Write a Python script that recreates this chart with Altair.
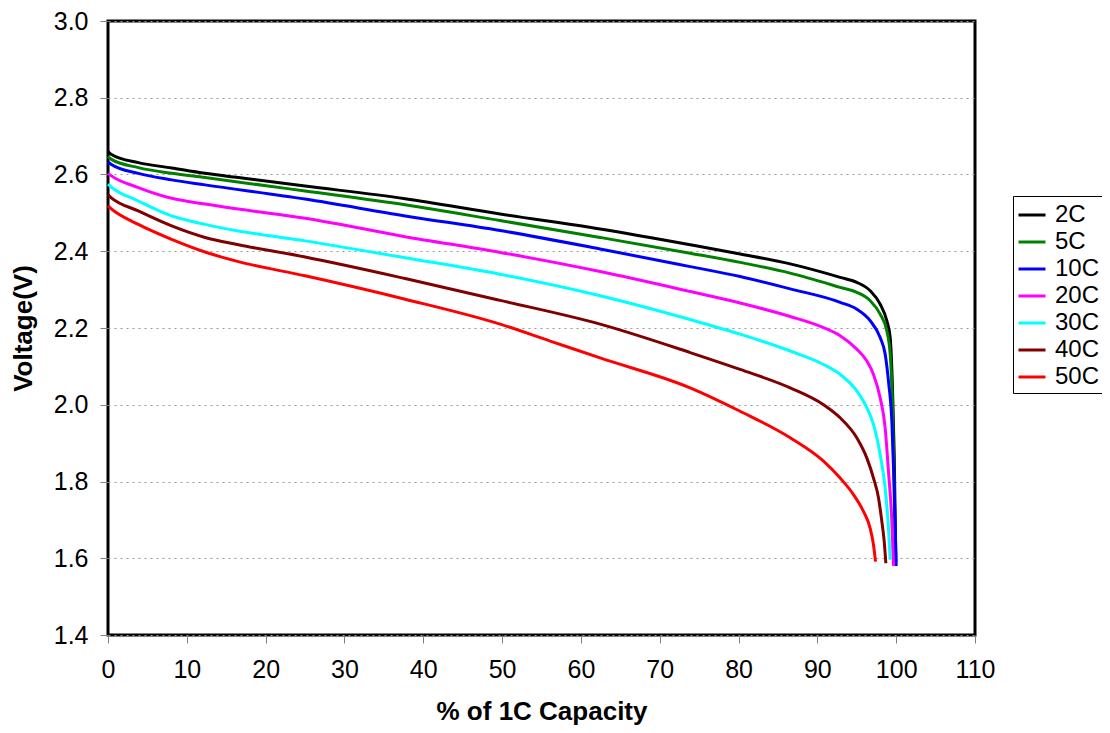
import altair as alt
import pandas as pd

series_names = ["2C", "5C", "10C", "20C", "30C", "40C", "50C"]
series_colors = ["#000000", "#008000", "#0000FF", "#FF00FF", "#00FFFF", "#800000", "#FF0000"]

x_2c = [0, 0.38, 3.85, 8.08, 12.31, 16.54, 25.0, 37.7, 49.75, 62.44, 73.86, 80.2, 86.55, 92.89, 95.0, 96.7, 97.97, 98.81, 99.24, 99.53, 99.75, 99.96]
v_2c = [2.66, 2.653, 2.631, 2.617, 2.603, 2.592, 2.570, 2.537, 2.497, 2.458, 2.417, 2.393, 2.367, 2.332, 2.319, 2.297, 2.262, 2.219, 2.175, 2.044, 1.87, 1.59]

x_5c = [0, 0.38, 3.85, 8.08, 12.31, 25.0, 37.7, 49.75, 62.44, 73.86, 80.2, 86.55, 92.89, 95.0, 96.7, 97.97, 98.81, 99.24, 99.53, 99.75, 99.87]
v_5c = [2.647, 2.640, 2.618, 2.603, 2.592, 2.557, 2.521, 2.48, 2.436, 2.395, 2.371, 2.343, 2.306, 2.293, 2.271, 2.236, 2.193, 2.132, 2.0, 1.783, 1.59]

x_10c = [0, 0.38, 3.85, 8.08, 12.31, 25.0, 37.7, 49.75, 62.44, 73.86, 80.2, 86.55, 92.89, 95.0, 96.7, 97.97, 98.6, 99.02, 99.45, 99.75, 100.0]
v_10c = [2.633, 2.627, 2.603, 2.586, 2.573, 2.536, 2.492, 2.454, 2.406, 2.36, 2.334, 2.302, 2.267, 2.249, 2.219, 2.175, 2.132, 2.062, 1.957, 1.783, 1.58]

x_20c = [0, 0.38, 3.85, 8.08, 12.31, 16.54, 25.0, 37.7, 49.75, 62.44, 73.86, 80.2, 86.55, 90.78, 92.89, 95.0, 96.28, 97.12, 97.97, 98.6, 99.02, 99.45, 99.66]
v_20c = [2.603, 2.597, 2.566, 2.538, 2.523, 2.51, 2.486, 2.438, 2.397, 2.347, 2.295, 2.265, 2.230, 2.201, 2.18, 2.145, 2.114, 2.079, 2.018, 1.94, 1.827, 1.696, 1.58]

x_30c = [0, 0.38, 3.85, 8.08, 12.31, 16.54, 25.0, 37.7, 49.75, 62.44, 73.86, 80.2, 86.55, 90.78, 92.89, 95.0, 96.28, 97.12, 97.97, 98.6, 99.02, 99.24]
v_30c = [2.575, 2.568, 2.531, 2.492, 2.47, 2.453, 2.427, 2.383, 2.34, 2.284, 2.222, 2.184, 2.14, 2.105, 2.079, 2.036, 1.992, 1.949, 1.87, 1.783, 1.678, 1.596]

x_40c = [0, 0.38, 3.85, 8.08, 12.31, 16.54, 25.0, 37.7, 49.75, 62.44, 73.86, 80.2, 86.55, 90.78, 92.89, 95.0, 96.28, 97.12, 97.76, 98.18, 98.48, 98.69]
v_40c = [2.547, 2.54, 2.505, 2.466, 2.436, 2.417, 2.385, 2.329, 2.272, 2.21, 2.136, 2.092, 2.044, 2.0, 1.966, 1.914, 1.861, 1.809, 1.757, 1.696, 1.644, 1.587]

x_50c = [0, 0.38, 3.85, 8.08, 12.31, 16.54, 25.0, 37.7, 49.75, 56.1, 62.44, 73.86, 80.2, 86.55, 90.78, 92.89, 94.58, 95.85, 96.7, 97.12, 97.38]
v_50c = [2.518, 2.511, 2.47, 2.431, 2.398, 2.373, 2.336, 2.275, 2.21, 2.166, 2.122, 2.044, 1.983, 1.914, 1.853, 1.809, 1.766, 1.722, 1.678, 1.635, 1.591]

x_ticks = list(range(0, 111, 10))
y_ticks = [1.4, 1.6, 1.8, 2.0, 2.2, 2.4, 2.6, 2.8, 3.0]

all_series = [
    ("2C", x_2c, v_2c), ("5C", x_5c, v_5c), ("10C", x_10c, v_10c),
    ("20C", x_20c, v_20c), ("30C", x_30c, v_30c), ("40C", x_40c, v_40c),
    ("50C", x_50c, v_50c),
]
rows = []
for name, xs, vs in all_series:
    for i, (x, v) in enumerate(zip(xs, vs)):
        rows.append({"series": name, "capacity": x, "voltage": v, "idx": i})
df = pd.DataFrame(rows)

FONT = "Liberation Sans"

chart = alt.Chart(df).mark_line(strokeWidth=3, interpolate="monotone").encode(
    x=alt.X("capacity:Q",
            scale=alt.Scale(domain=[0, 110], nice=False),
            axis=alt.Axis(values=x_ticks, title="% of 1C Capacity", grid=False,
                          labelFlush=False, labelPadding=14, titlePadding=16)),
    y=alt.Y("voltage:Q",
            scale=alt.Scale(domain=[1.4, 3.0], nice=False, zero=False),
            axis=alt.Axis(values=y_ticks, format=".1f", title="Voltage(V)", grid=True,
                          gridDash=[2, 4], gridColor="#999999", gridWidth=1,
                          labelFlush=False, labelPadding=12, titlePadding=17)),
    color=alt.Color("series:N",
                    scale=alt.Scale(domain=series_names, range=series_colors),
                    legend=alt.Legend(title=None, orient="none", legendX=905, legendY=175,
                                      strokeColor="black", fillColor="white", padding=4,
                                      symbolType="stroke", symbolSize=729, symbolStrokeWidth=3,
                                      labelFont=FONT, labelFontSize=24, labelColor="black",
                                      labelOffset=8, rowPadding=0)),
    order=alt.Order("idx:Q"),
).properties(
    width=867, height=614,
    autosize=alt.AutoSizeParams(type="none"),
    padding={"left": 100, "top": 13, "right": 127, "bottom": 90},
    background="white",
).configure_view(
    stroke="black", strokeWidth=3
).configure_axis(
    domain=False,
    labelFont=FONT, labelFontSize=25, labelColor="black",
    tickColor="#808080", tickSize=8, tickWidth=1,
    titleFont=FONT, titleFontSize=26, titleFontWeight="bold", titleColor="black",
)

chart.save("out.html", embed_options={"renderer": "svg", "actions": False})
